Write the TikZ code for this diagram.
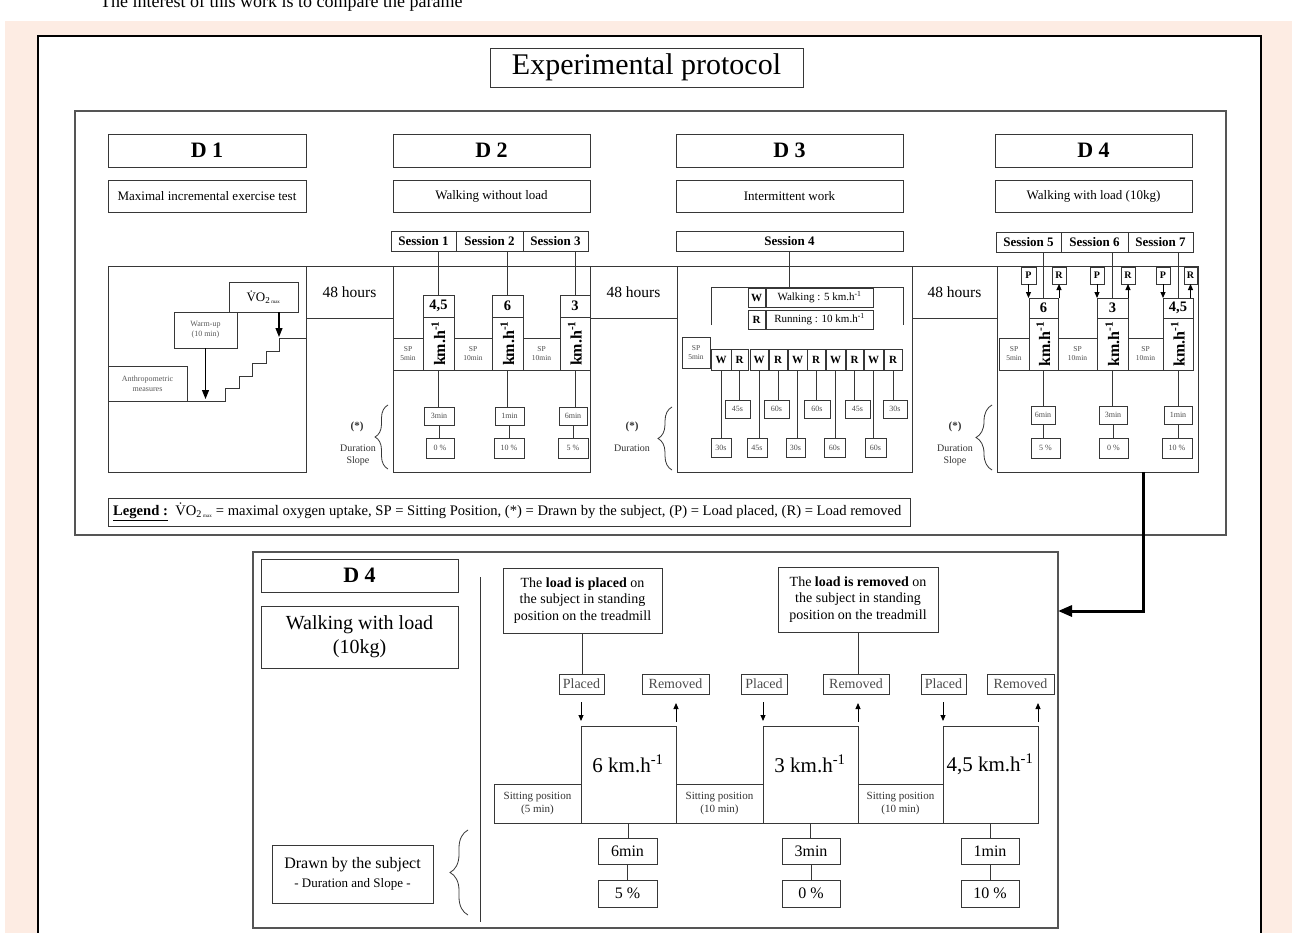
\documentclass[tikz,border=0pt]{standalone}
\usepackage{fontspec}
\setmainfont{Liberation Serif}
\usetikzlibrary{arrows.meta,decorations.pathreplacing}
\definecolor{peach}{RGB}{253,236,227}
\definecolor{ln}{RGB}{55,55,55}
\definecolor{gl}{RGB}{85,85,85}
\newcommand\fsz[1]{\fontsize{#1}{\fpeval{1.2*#1}}\selectfont}
\newcommand\mybox[7][]{\node[bx,minimum width={#5pt-#3pt},minimum height={#6pt-#4pt},#1] (#2) at ({(#3+#5)/2},{(#4+#6)/2}) {#7};}
\newcommand\kmh{km.h\textsuperscript{-1}}
\tikzset{
  bx/.style={draw=ln,line width=0.9pt,inner sep=0pt,outer sep=0pt,align=center,text=black},
  con/.style={draw=ln,line width=0.9pt},
  sarr/.style={draw=black,line width=0.9pt,-{Triangle[length=6pt,width=5pt]}},
  marr/.style={draw=black,line width=1.1pt,-{Triangle[length=9pt,width=7pt]}},
  brc/.style={draw=ln,line width=0.8pt,decorate,decoration={brace,amplitude=#1}},
  ttl/.style={font=\fsz{22}\bfseries},
  subt/.style={font=\fsz{13}},
  ses/.style={font=\fsz{13}\bfseries},
  hrs/.style={font=\fsz{15.5}},
  num/.style={font=\fsz{14.5}\bfseries},
  kmx/.style={rotate=90,font=\fsz{16}\bfseries},
  spx/.style={font=\fsz{7.5},text=black!70},
  dur/.style={font=\fsz{8},text=black!70},
  wr/.style={font=\fsz{11}\bfseries},
  pr/.style={font=\fsz{10}\bfseries},
  plc/.style={font=\fsz{14},text=black!70},
  sit/.style={font=\fsz{11},text=black!80},
  bdur/.style={font=\fsz{16}},
  starx/.style={font=\fsz{11}\bfseries,text=black!80},
  durx/.style={font=\fsz{10},text=black!80,align=center},
}
\begin{document}
\begin{tikzpicture}[x=1pt,y=-1pt]
\useasboundingbox (0,0) rectangle (1292,933);
\begin{scope}
\clip (0,0) rectangle (1292,933);
\fill[peach] (5,21) rectangle (1292,933);
\node[anchor=base west,font=\fsz{18},inner sep=0] (intro) at (100,8) {The interest of this work is to compare the parame};
\mybox[draw=black,line width=2.5pt,fill=white]{frame}{38}{36}{1261}{960}{}
\end{scope}

% upper panel
\mybox[draw=gl,line width=1.5pt,fill=white]{upper}{75}{111}{1226}{535}{}
\mybox[font=\fsz{30}]{exp}{490}{48}{803}{87}{Experimental protocol}

\mybox[ttl]{t1}{108}{134}{306}{167}{D 1}
\mybox[subt]{s1}{108}{180}{306}{212}{Maximal incremental exercise test}
\mybox[ttl]{t2}{393}{134}{590}{167}{D 2}
\mybox[subt]{s2}{393}{180}{590}{212}{Walking without load}
\mybox[ttl]{t3}{676}{134}{903}{167}{D 3}
\mybox[subt]{s3}{676}{180}{903}{212}{Intermittent work}
\mybox[ttl]{t4}{995}{134}{1192}{167}{D 4}
\mybox[subt]{s4}{995}{180}{1192}{212}{Walking with load (10kg)}

\mybox{r1}{108}{266}{306}{472}{}
\mybox[hrs]{h1}{306}{266}{393}{318}{48 hours}
\mybox{r2}{393}{266}{590}{472}{}
\mybox[hrs]{h2}{590}{266}{677}{318}{48 hours}
\mybox{r3}{677}{266}{912}{472}{}
\mybox[hrs]{h3}{912}{266}{997}{318}{48 hours}
\mybox{r4}{997}{266}{1198}{472}{}

% D1
\mybox[font=\fsz{8},text=black!65]{anth}{108}{366}{187}{401}{Anthropometric\\measures}
\mybox[font=\fsz{8},text=black!65]{warm}{174}{312}{237}{348}{Warm-up\\(10 min)}
\mybox[font=\fsz{13}]{vo}{229}{282}{298}{312}{\.{V}O\textsubscript{2\,{\fsz{5}max}}}
\draw[con] (anth.south east) -- (225,401) -- (225,388) -- (239,388) -- (239,376) -- (252,376) -- (252,363) -- (266,363) -- (266,351) -- (279,351) -- (279,338) -- (r1.east |- 0,338);
\draw[marr] (warm.south) -- (warm.south |- 0,399);
\draw[marr] (vo.south -| 279,0) -- (279,337);

% D2
\mybox[ses]{se1}{391}{231}{456}{251}{Session 1}
\mybox[ses]{se2}{456}{231}{523}{251}{Session 2}
\mybox[ses]{se3}{523}{231}{588}{251}{Session 3}
\mybox[num]{n1}{423}{295}{454}{317}{4,5}
\mybox{k1}{423}{317}{454}{370}{}
\mybox[num]{n2}{492}{295}{523}{317}{6}
\mybox{k2}{492}{317}{523}{370}{}
\mybox[num]{n3}{560}{295}{590}{317}{3}
\mybox{k3}{560}{317}{590}{370}{}
\foreach \k in {k1,k2,k3}{\node[kmx] at (\k) {\kmh};}
\mybox[spx]{sp1}{393}{338}{423}{370}{SP\\5min}
\mybox[spx]{sp2}{454}{338}{492}{370}{SP\\10min}
\mybox[spx]{sp3}{523}{338}{560}{370}{SP\\10min}
\mybox[dur]{du1}{424}{407}{454}{425}{3min}
\mybox[dur]{du2}{495}{407}{524}{425}{1min}
\mybox[dur]{du3}{559}{407}{587}{425}{6min}
\mybox[dur]{sl1}{426}{438}{454}{458}{0 \%}
\mybox[dur]{sl2}{494}{438}{524}{458}{10 \%}
\mybox[dur]{sl3}{558}{438}{588}{458}{5 \%}
\draw[con] (n1.north) -- (n1.north |- se1.south);
\draw[con] (n2.north) -- (n2.north |- se2.south);
\draw[con] (n3.north) -- (n3.north |- se3.south);
\draw[con] (k1.south) -- (k1.south |- du1.north);
\draw[con] (k2.south) -- (k2.south |- du2.north);
\draw[con] (k3.south) -- (k3.south |- du3.north);
\draw[con] (du1.south) -- (du1.south |- sl1.north);
\draw[con] (du2.south) -- (du2.south |- sl2.north);
\draw[con] (du3.south) -- (du3.south |- sl3.north);
\draw[brc=13pt] (388,469) -- (388,405);
\node[starx] at (357,427) {(*)};
\node[durx] at (358,455) {Duration\\Slope};

% D3
\mybox[ses]{se4}{676}{231}{903}{251}{Session 4}
\coordinate (bl) at (711,287);
\coordinate (br) at (903,287);
\draw[con] (se4.south) -- (se4.south |- bl);
\draw[con] (bl |- 0,325) -- (bl) -- (br) -- (br |- 0,325);
\mybox[wr]{lw}{748}{288}{765}{307}{W}
\mybox[font=\fsz{11}]{lwt}{766}{288}{873}{307}{Walking : 5 \kmh}
\mybox[wr]{lr}{748}{310}{765}{329}{R}
\mybox[font=\fsz{11}]{lrt}{766}{310}{873}{329}{Running : 10 \kmh}
\mybox[spx]{sp4}{682}{337}{710}{368}{SP\\5min}
\mybox[wr]{w1}{711}{349}{731}{370}{W}
\mybox[wr]{q1}{731}{349}{748}{370}{R}
\mybox[wr]{w2}{750}{349}{768}{370}{W}
\mybox[wr]{q2}{769}{349}{787}{370}{R}
\mybox[wr]{w3}{788}{349}{807}{370}{W}
\mybox[wr]{q3}{807}{349}{825}{370}{R}
\mybox[wr]{w4}{826}{349}{845}{370}{W}
\mybox[wr]{q4}{846}{349}{863}{370}{R}
\mybox[wr]{w5}{864}{349}{883}{370}{W}
\mybox[wr]{q5}{884}{349}{902}{370}{R}
\mybox[dur]{qd1}{725}{400}{750}{418}{45s}
\mybox[dur]{qd2}{764}{400}{789}{418}{60s}
\mybox[dur]{qd3}{804}{400}{830}{418}{60s}
\mybox[dur]{qd4}{845}{400}{870}{418}{45s}
\mybox[dur]{qd5}{883}{400}{907}{418}{30s}
\mybox[dur]{wd1}{711}{438}{731}{457}{30s}
\mybox[dur]{wd2}{747}{438}{767}{457}{45s}
\mybox[dur]{wd3}{786}{438}{805}{457}{30s}
\mybox[dur]{wd4}{824}{438}{845}{457}{60s}
\mybox[dur]{wd5}{865}{438}{886}{457}{60s}
\foreach \i in {1,...,5}{
  \draw[con] (w\i.south) -- (w\i.south |- wd\i.north);
  \draw[con] (q\i.south) -- (q\i.south |- qd\i.north);
}
\draw[brc=14pt] (672,470) -- (672,407);
\node[starx] at (632,427) {(*)};
\node[durx] at (632,448) {Duration};

% D4
\mybox[ses]{se5}{996}{232}{1061}{252}{Session 5}
\mybox[ses]{se6}{1061}{232}{1128}{252}{Session 6}
\mybox[ses]{se7}{1128}{232}{1193}{252}{Session 7}
\mybox[pr]{pp1}{1021}{267}{1036}{284}{P}
\mybox[pr]{rr1}{1052}{267}{1066}{284}{R}
\mybox[pr]{pp2}{1090}{267}{1104}{284}{P}
\mybox[pr]{rr2}{1121}{267}{1135}{284}{R}
\mybox[pr]{pp3}{1156}{267}{1170}{284}{P}
\mybox[pr]{rr3}{1184}{267}{1197}{284}{R}
\mybox[num]{n5}{1029}{298}{1058}{318}{6}
\mybox{k5}{1029}{318}{1058}{370}{}
\mybox[num]{n6}{1097}{298}{1128}{318}{3}
\mybox{k6}{1097}{318}{1128}{370}{}
\mybox[num]{n7}{1163}{298}{1193}{318}{4,5}
\mybox{k7}{1163}{318}{1193}{370}{}
\foreach \k in {k5,k6,k7}{\node[kmx] at (\k) {\kmh};}
\mybox[spx]{sp5}{999}{338}{1029}{370}{SP\\5min}
\mybox[spx]{sp6}{1058}{338}{1097}{370}{SP\\10min}
\mybox[spx]{sp7}{1128}{338}{1163}{370}{SP\\10min}
\mybox[dur]{du5}{1031}{406}{1055}{424}{6min}
\mybox[dur]{du6}{1099}{406}{1127}{424}{3min}
\mybox[dur]{du7}{1164}{406}{1192}{424}{1min}
\mybox[dur]{sl5}{1031}{438}{1060}{458}{5 \%}
\mybox[dur]{sl6}{1099}{438}{1128}{458}{0 \%}
\mybox[dur]{sl7}{1162}{438}{1192}{458}{10 \%}
\foreach \i/\j in {5/1,6/2,7/3}{
  \draw[con] (n\i.north) -- (n\i.north |- se\i.south);
  \draw[con] (k\i.south) -- (k\i.south |- du\i.north);
  \draw[con] (du\i.south) -- (du\i.south |- sl\i.north);
  \draw[sarr] (pp\j.south) -- (pp\j.south |- n\i.north);
  \draw[sarr] (rr\j.south |- n\i.north) -- (rr\j.south);
}
\draw[brc=16pt] (992,470) -- (992,405);
\node[starx] at (955,427) {(*)};
\node[durx] at (955,455) {Duration\\Slope};

% legend
\mybox{leg}{108}{498}{910}{526}{}
\node[anchor=west,font=\fsz{14.6},inner sep=0] (legt) at (113,512) {\textbf{\underline{Legend :}}\ \ \.{V}O\textsubscript{2\,{\fsz{5}max}} = maximal oxygen uptake, SP = Sitting Position, (*) = Drawn by the subject, (P) = Load placed, (R) = Load removed};

% bottom panel
\mybox[draw=gl,line width=1.3pt,fill=white]{bot}{253}{552}{1058}{928}{}
\mybox[ttl]{bt}{261}{559}{458}{592}{D 4}
\mybox[font=\fsz{20}]{bw}{261}{606}{458}{668}{Walking with load\\(10kg)}
\draw[con] (480,577) -- (480,922);
\draw[brc=18pt] (468,915) -- (468,830);
\mybox[font=\fsz{16}]{bd}{272}{845}{433}{903}{Drawn by the subject\\{\fsz{13}- Duration and Slope -}}
\mybox[font=\fsz{14}]{ptx}{503}{568}{662}{633}{The \textbf{load is placed} on\\the subject in standing\\position on the treadmill}
\mybox[font=\fsz{14}]{rtx}{778}{567}{938}{632}{The \textbf{load is removed} on\\the subject in standing\\position on the treadmill}
\mybox[plc]{pl1}{559}{674}{604}{694}{Placed}
\mybox[plc]{rm1}{642}{674}{709}{694}{Removed}
\mybox[plc]{pl2}{741}{674}{787}{694}{Placed}
\mybox[plc]{rm2}{823}{674}{889}{694}{Removed}
\mybox[plc]{pl3}{921}{674}{966}{694}{Placed}
\mybox[plc]{rm3}{987}{674}{1054}{694}{Removed}
\mybox{v1}{581}{726}{676}{823}{}
\mybox{v2}{763}{726}{858}{823}{}
\mybox{v3}{943}{726}{1038}{823}{}
\node[font=\fsz{21}] at (628,764) {6 \kmh};
\node[font=\fsz{21}] at (810,764) {3 \kmh};
\node[font=\fsz{21}] at (990,764) {4,5 \kmh};
\mybox[sit]{si1}{494}{784}{581}{823}{Sitting position\\(5 min)}
\mybox[sit]{si2}{676}{784}{763}{823}{Sitting position\\(10 min)}
\mybox[sit]{si3}{858}{784}{943}{823}{Sitting position\\(10 min)}
\mybox[bdur]{bd1}{598}{838}{657}{864}{6min}
\mybox[bdur]{bd2}{782}{838}{840}{864}{3min}
\mybox[bdur]{bd3}{961}{838}{1019}{864}{1min}
\mybox[bdur]{bs1}{598}{880}{657}{907}{5 \%}
\mybox[bdur]{bs2}{782}{880}{840}{907}{0 \%}
\mybox[bdur]{bs3}{961}{880}{1019}{907}{10 \%}
\draw[con] (ptx.south) -- (ptx.south |- pl1.north);
\draw[con] (rtx.south) -- (rtx.south |- rm2.north);
\foreach \i in {1,2,3}{
  \draw[con] (v\i.south) -- (v\i.south |- bd\i.north);
  \draw[con] (bd\i.south) -- (bd\i.south |- bs\i.north);
  \draw[sarr] ([yshift=24pt]v\i.north west) -- ([yshift=5pt]v\i.north west);
  \draw[sarr] ([yshift=4pt]v\i.north east) -- ([yshift=23pt]v\i.north east);
}

% link from D4 to detail
\coordinate (kk) at (1143,611);
\draw[line width=3pt,-{Triangle[length=14pt,width=11pt]}] (r4.south -| kk) -- (kk) -- (kk -| bot.east);
\end{tikzpicture}
\end{document}
